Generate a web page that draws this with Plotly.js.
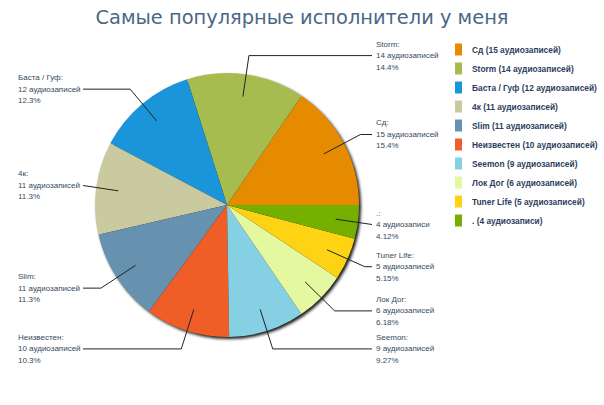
<!DOCTYPE html>
<html>
<head>
<meta charset="utf-8">
<script src="https://cdn.plot.ly/plotly-3.0.1.min.js"></script>
<style>
  html, body { margin: 0; padding: 0; background: #fff; }
  #chart { width: 604px; height: 405px; }
  /* soft shadow under the pie: the first pie trace is only a dark disc */
  .pielayer .trace:first-child { filter: blur(1.6px); }
</style>
</head>
<body>
<div id="chart"></div>
<script>
var artists = ['Сд', 'Storm', 'Баста / Гуф', '4к', 'Slim', 'Неизвестен', 'Seemon', 'Лок Дог', 'Tuner Life', '.'];
var counts = [15, 14, 12, 11, 11, 10, 9, 6, 5, 4];
var colors = ['#e68a00', '#a6bc4f', '#1b95d9', '#cacaa0', '#6692b0', '#f05e27', '#86d0e3', '#e4f8a0', '#fdd313', '#75b000'];

var W = 604, H = 405;
var cx = 227, cy = 205, R = 132;

function px(x) { return x / W; }
function py(y) { return 1 - y / H; }

function word(n) {
    if (n % 10 == 1 && n % 100 != 11) return 'аудиозапись';
    if (n % 10 >= 2 && n % 10 <= 4 && (n % 100 < 12 || n % 100 > 14)) return 'аудиозаписи';
    return 'аудиозаписей';
}

var total = counts.reduce(function (a, b) { return a + b; }, 0);

function pct(v) {
    var p = v / total * 100;
    var d = p >= 10 ? 1 : 2;
    var k = Math.pow(10, d);
    return (Math.floor(p * k + 1e-9) / k).toFixed(d);
}

var legendLabels = artists.map(function (a, i) {
    return a + ' (' + counts[i] + ' ' + word(counts[i]) + ')';
});

var labelFont = { family: 'Liberation Sans, Arial, sans-serif', size: 8, color: '#34495e' };
var annotations = [];
var shapes = [];
var cum = 0;
for (var i = 0; i < counts.length; i++) {
    var mid = (cum + counts[i] / 2) / total * 2 * Math.PI;
    cum += counts[i];
    var c = Math.cos(mid), s = Math.sin(mid);
    var right = c >= 0;
    var ly = cy - 151 * s;
    var ex = cx + 151 * c;
    var ix = cx + 0.83 * R * c, iy = cy - 0.83 * R * s;
    var edge = right ? 372 : 83;
    var path = 'M' + px(edge) + ',' + py(ly);
    if ((right && ex < edge) || (!right && ex > edge)) path += ' L' + px(ex) + ',' + py(ly);
    path += ' L' + px(ix) + ',' + py(iy);
    shapes.push({ type: 'path', xref: 'paper', yref: 'paper', path: path, line: { color: '#222', width: 1 } });

    var lines = [artists[i] + ':', counts[i] + ' ' + word(counts[i]), pct(counts[i]) + '%'];
    for (var j = 0; j < 3; j++) {
        annotations.push({
            xref: 'paper', yref: 'paper',
            x: px(right ? 374 : 16), y: py(ly + (j - 1) * 11.5),
            xanchor: 'left', yanchor: 'middle',
            text: lines[j], showarrow: false, font: labelFont
        });
    }
}

var dom = {
    x: [px(cx - R), px(cx + R)],
    y: [py(cy + R), py(cy - R)]
};

var shadow = {
    type: 'pie',
    values: [1],
    labels: ['shadow'],
    marker: { colors: ['rgba(0,0,0,0.9)'], line: { width: 0 } },
    domain: { x: [px(cx - R + 2), px(cx + R + 2)], y: [py(cy + R + 2), py(cy - R + 2)] },
    textinfo: 'none',
    hoverinfo: 'skip',
    showlegend: false
};

// counterclockwise pies end their first slice at the rotation angle,
// so shift it to let the first slice start at 3 o'clock
var pie = {
    type: 'pie',
    values: counts,
    labels: legendLabels,
    marker: { colors: colors, line: { width: 0 } },
    domain: dom,
    sort: false,
    direction: 'counterclockwise',
    rotation: 90 - 360 * counts[0] / total,
    textinfo: 'none',
    hoverinfo: 'label+percent'
};

var layout = {
    width: W,
    height: H,
    margin: { l: 0, r: 0, t: 0, b: 0 },
    paper_bgcolor: '#fff',
    title: {
        text: 'Самые популярные исполнители у меня',
        font: { family: 'DejaVu Sans, Verdana, sans-serif', size: 19.4, color: '#4a6787' },
        x: 0.5, xanchor: 'center',
        yref: 'container', y: 1 - 17 / H, yanchor: 'middle'
    },
    showlegend: true,
    legend: {
        x: px(432), y: py(35), xanchor: 'left', yanchor: 'top',
        font: { family: 'Liberation Sans, Arial, sans-serif', size: 8.4, weight: 'bold', color: '#2c3e5c' },
        bgcolor: 'rgba(0,0,0,0)',
        itemclick: false, itemdoubleclick: false
    },
    annotations: annotations,
    shapes: shapes
};

Plotly.newPlot('chart', [shadow, pie], layout, { displayModeBar: false, staticPlot: true }).then(function (gd) {
    // narrow legend swatches like the original
    gd.querySelectorAll('.legend .legendpoints path').forEach(function (p) {
        p.setAttribute('d', 'M10,6H3V-6H10Z');
    });
});
</script>
</body>
</html>
